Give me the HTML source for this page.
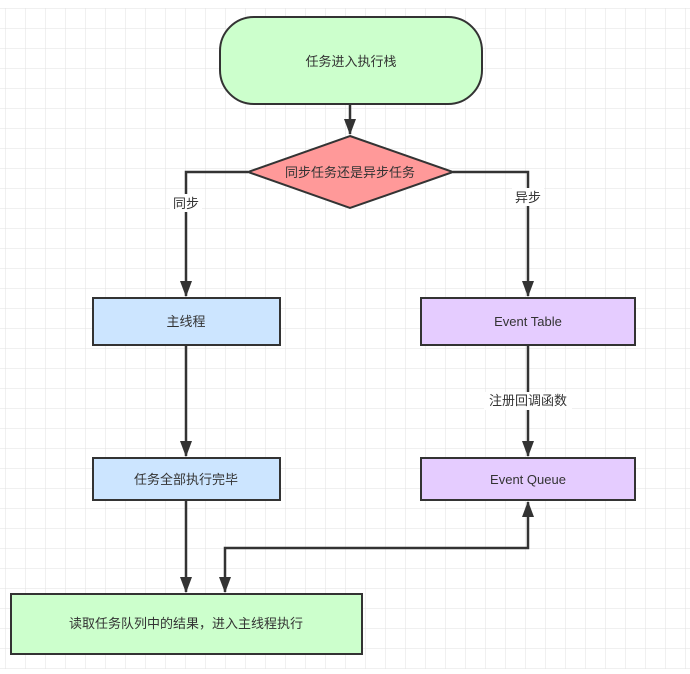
<!DOCTYPE html>
<html><head><meta charset="utf-8"><style>
html,body{margin:0;padding:0;background:#fff;}
</style></head><body>
<svg width="690" height="669" xmlns="http://www.w3.org/2000/svg" font-family="Liberation Sans, Noto Sans CJK SC, sans-serif" font-size="13">
<defs>
<pattern id="g" width="20" height="20" patternUnits="userSpaceOnUse" x="5" y="8">
<path d="M20 0H0V20" fill="none" stroke="#e2e2e2" stroke-width="1"/>
</pattern>
<marker id="a" markerWidth="16" markerHeight="12" refX="15" refY="6" orient="auto" markerUnits="userSpaceOnUse">
<path d="M0 0L16 6L0 12z" fill="#333"/>
</marker>
</defs>
<rect x="0" y="8" width="690" height="661" fill="url(#g)"/>
<g stroke="#333" stroke-width="2.5" fill="none">
<path d="M350 104V134" marker-end="url(#a)"/>
<path d="M248 172H186V296" marker-end="url(#a)"/>
<path d="M453 172H528V296" marker-end="url(#a)"/>
<path d="M186 345V456" marker-end="url(#a)"/>
<path d="M528 345V456" marker-end="url(#a)"/>
<path d="M186 500V592" marker-end="url(#a)"/>
<path d="M225 560V548H528V502" marker-end="url(#a)"/>
<path d="M225 560V592" marker-end="url(#a)"/>
</g>
<rect x="220" y="17" width="262" height="87" rx="34" fill="#ccffcc" stroke="#333" stroke-width="2"/>
<polygon points="350,136 453,172 350,208 248,172" fill="#ff9999" stroke="#333" stroke-width="2"/>
<rect x="93" y="298" width="187" height="47" fill="#cce5ff" stroke="#333" stroke-width="2"/>
<rect x="421" y="298" width="214" height="47" fill="#e5ccff" stroke="#333" stroke-width="2"/>
<rect x="93" y="458" width="187" height="42" fill="#cce5ff" stroke="#333" stroke-width="2"/>
<rect x="421" y="458" width="214" height="42" fill="#e5ccff" stroke="#333" stroke-width="2"/>
<rect x="11" y="594" width="351" height="60" fill="#ccffcc" stroke="#333" stroke-width="2"/>
<g fill="#333" text-anchor="middle">
<text x="351" y="66">任务进入执行栈</text>
<text x="350" y="177">同步任务还是异步任务</text>
<text x="186" y="326">主线程</text>
<text x="528" y="326">Event Table</text>
<text x="186" y="484">任务全部执行完毕</text>
<text x="528" y="484">Event Queue</text>
<text x="186" y="628">读取任务队列中的结果，进入主线程执行</text>
<rect x="170" y="194" width="32" height="18" fill="#fff"/>
<text x="186" y="208">同步</text>
<rect x="512" y="188" width="32" height="18" fill="#fff"/>
<text x="528" y="202">异步</text>
<rect x="484" y="392" width="88" height="18" fill="#fff"/>
<text x="528" y="405">注册回调函数</text>
</g>
</svg>
</body></html>
